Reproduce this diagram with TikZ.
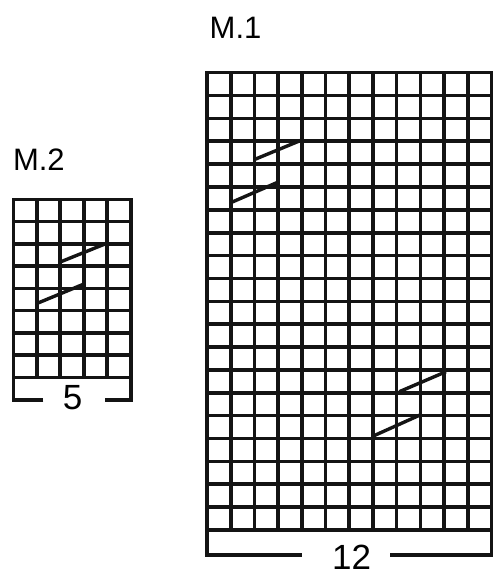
\documentclass[tikz,border=0pt]{standalone}
\usepackage{fontspec}
\setmainfont{Liberation Sans}
\begin{document}
\begin{tikzpicture}[x=1pt,y=-1pt,
  gl/.style={line width=3.6pt, black!92},
  cable/.style={line width=3.4pt, black!92},
  title/.style={font=\fontsize{31}{36}\selectfont, inner sep=0pt, anchor=base west},
  num/.style={font=\fontsize{35}{40}\selectfont, inner sep=0pt, anchor=center}]
\useasboundingbox (0,0) rectangle (502,588);
% ---------- M.1 ----------
\foreach \i in {1,...,11} \draw[gl] ({207+\i*23.7},72.7) -- ({207+\i*23.7},530);
\foreach \j in {1,...,19} \draw[gl] (207,{72.7+\j*22.865}) -- (491.4,{72.7+\j*22.865});
\draw[gl] (207,72.7) rectangle (491.4,530);
\draw[gl] (301.7,555) -- (207,555) -- (207,530);
\draw[gl] (390,555) -- (491.4,555) -- (491.4,530);
\draw[cable] (255,159.3) -- (301.7,140);
\draw[cable] (230.7,202.7) -- (276.7,182.7);
\draw[cable] (399.3,391.7) -- (446,371.7);
\draw[cable] (373.3,436) -- (420,415);
\node[title] (m1) at (209.5,38.3) {M.1};
\node[num] (n12) at (351.7,557.5) {12};
% ---------- M.2 ----------
\foreach \i in {1,...,4} \draw[gl] ({13.3+\i*23.48},199.3) -- ({13.3+\i*23.48},377.3);
\foreach \j in {1,...,7} \draw[gl] (13.3,{199.3+\j*22.25}) -- (130.7,{199.3+\j*22.25});
\draw[gl] (13.3,199.3) rectangle (130.7,377.3);
\draw[gl] (43.3,400) -- (13.3,400) -- (13.3,377.3);
\draw[gl] (105,400) -- (130.7,400) -- (130.7,377.3);
\draw[cable] (37.3,303.3) -- (84,284);
\draw[cable] (61,261.7) -- (106.7,243.3);
\node[title] (m2) at (12.8,170) {M.2};
\node[num] (n5) at (72.5,397.5) {5};
\end{tikzpicture}
\end{document}
